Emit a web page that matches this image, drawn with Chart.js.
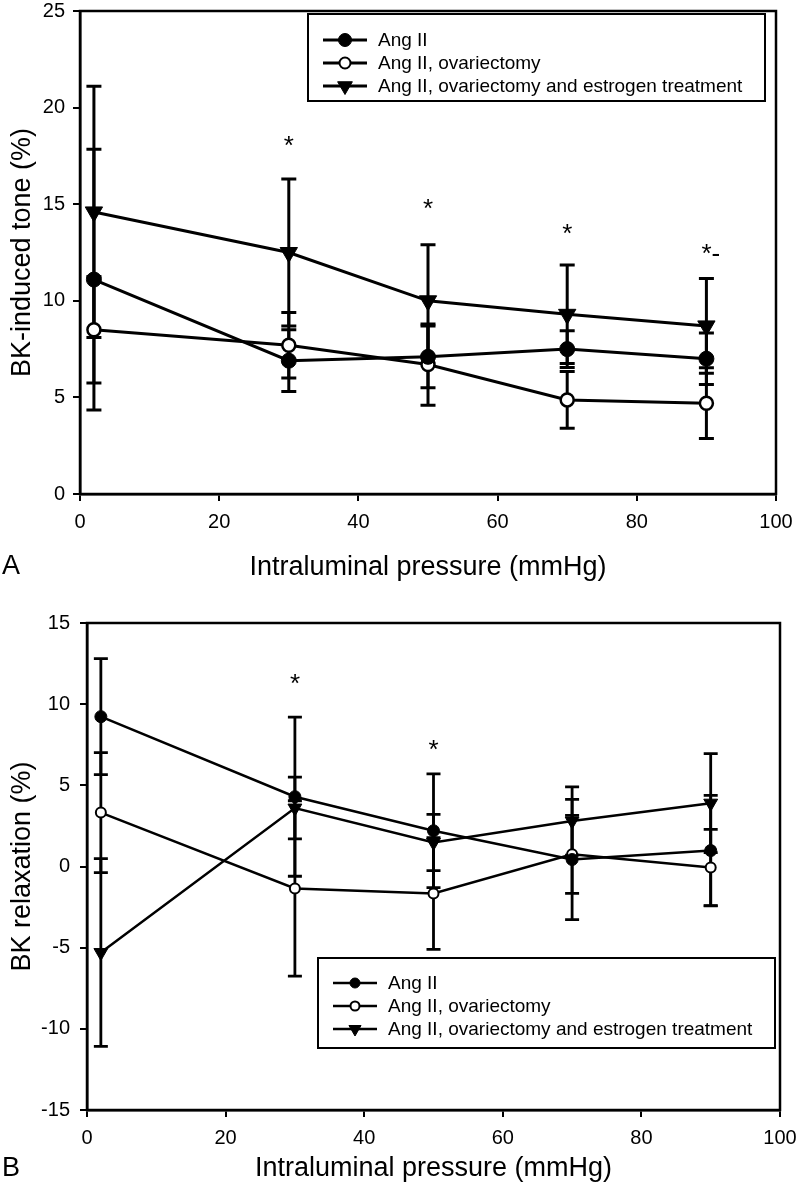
<!DOCTYPE html>
<html>
<head>
<meta charset="utf-8">
<script src="https://cdn.jsdelivr.net/npm/chart.js@4.4.0/dist/chart.umd.min.js"></script>
<style>
  html, body { margin: 0; padding: 0; background: #fff; }
  #wrap { position: relative; width: 800px; height: 1197px; }
  canvas { position: absolute; left: 0; }
  #toneChart { top: 0; }
  #relaxChart { top: 600px; }
</style>
</head>
<body>
<div id="wrap">
  <canvas id="toneChart" width="800" height="600"></canvas>
  <canvas id="relaxChart" width="800" height="597"></canvas>
</div>
<script>
// ---- Data ----
const pressure = [2, 30, 50, 70, 90];
const pressureTicks = [0, 20, 40, 60, 80, 100];
const seriesNames = ['Ang II', 'Ang II, ovariectomy', 'Ang II, ovariectomy and estrogen treatment'];

// Panel A - BK-induced tone (%)
const toneAngII = [11.1, 6.9, 7.1, 7.5, 7.0];
const toneAngIIErr = [6.75, 1.6, 1.6, 0.95, 1.33];
const toneOvx = [8.5, 7.7, 6.7, 4.87, 4.7];
const toneOvxErr = [2.76, 1.7, 2.1, 1.47, 1.83];
const toneEstrogen = [14.6, 12.5, 10.0, 9.3, 8.7];
const toneEstrogenErr = [6.5, 3.8, 2.9, 2.55, 2.45];
const toneTicks = [0, 5, 10, 15, 20, 25];
const toneStarPressure = [30, 50, 70, 90];
const toneStarLevel = [18.4, 15.1, 13.8, 12.8];
const toneStarText = ['*', '*', '*', '*-'];

// Panel B - BK relaxation (%)
const relaxAngII = [9.23, 4.3, 2.2, 0.43, 0.98];
const relaxAngIIErr = [3.57, 4.9, 3.5, 3.7, 3.4];
const relaxOvx = [3.32, -1.35, -1.66, 0.75, -0.06];
const relaxOvxErr = [3.7, 5.4, 3.44, 2.4, 2.35];
const relaxEstrogen = [-5.3, 3.6, 1.48, 2.8, 3.9];
const relaxEstrogenErr = [5.78, 1.9, 1.73, 2.1, 3.05];
const relaxTicks = [-15, -10, -5, 0, 5, 10, 15];
const relaxStarPressure = [30, 50];
const relaxStarLevel = [11.7, 7.6];
const relaxStarText = ['*', '*'];

const FONT = '"Liberation Sans", Arial, Helvetica, sans-serif';
Chart.defaults.font.family = FONT;
Chart.defaults.color = '#000';

function points(ys) {
    return pressure.map((x, i) => ({ x: x, y: ys[i] }));
}

// 0 = filled circle, 1 = open circle, 2 = filled down triangle
function makeDatasets(values, errors, size) {
    const shapes = [
        { style: 'circle', fill: '#000', radius: size.dot, border: 1, rot: 0 },
        { style: 'circle', fill: '#fff', radius: size.open, border: size.openBorder, rot: 0 },
        { style: 'triangle', fill: '#000', radius: size.tri, border: 1, rot: 180 }
    ];
    return values.map((vals, i) => ({
        label: seriesNames[i],
        data: points(vals),
        errors: errors[i],
        showLine: true,
        borderColor: '#000',
        borderWidth: size.line,
        pointStyle: shapes[i].style,
        pointRadius: shapes[i].radius,
        pointHoverRadius: shapes[i].radius,
        pointBackgroundColor: shapes[i].fill,
        pointBorderColor: '#000',
        pointBorderWidth: shapes[i].border,
        pointRotation: shapes[i].rot
    }));
}

function drawMarker(ctx, kind, cx, cy, r, bw) {
    ctx.beginPath();
    if (kind === 2) {
        ctx.moveTo(cx - r * 0.866, cy - r * 0.5);
        ctx.lineTo(cx + r * 0.866, cy - r * 0.5);
        ctx.lineTo(cx, cy + r);
        ctx.closePath();
    } else {
        ctx.arc(cx, cy, r, 0, Math.PI * 2);
    }
    ctx.fillStyle = kind === 1 ? '#fff' : '#000';
    ctx.fill();
    ctx.lineWidth = bw;
    ctx.strokeStyle = '#000';
    ctx.stroke();
}

// Error bars behind the lines and markers
const errorBars = {
    id: 'errorBars',
    beforeDatasetsDraw(chart, args, opts) {
        const { ctx, scales: { x, y } } = chart;
        ctx.save();
        ctx.strokeStyle = '#000';
        ctx.lineWidth = opts.width;
        chart.data.datasets.forEach(ds => {
            ds.data.forEach((p, i) => {
                const e = ds.errors[i];
                const px = x.getPixelForValue(p.x);
                const top = y.getPixelForValue(p.y + e);
                const bot = y.getPixelForValue(p.y - e);
                ctx.beginPath();
                ctx.moveTo(px, top); ctx.lineTo(px, bot);
                ctx.moveTo(px - opts.cap, top); ctx.lineTo(px + opts.cap, top);
                ctx.moveTo(px - opts.cap, bot); ctx.lineTo(px + opts.cap, bot);
                ctx.stroke();
            });
        });
        ctx.restore();
    }
};

// Significance stars
const stars = {
    id: 'stars',
    afterDatasetsDraw(chart, args, opts) {
        const { ctx, scales: { x, y } } = chart;
        ctx.save();
        ctx.font = opts.size + 'px ' + FONT;
        ctx.fillStyle = '#000';
        ctx.textAlign = 'left';
        ctx.textBaseline = 'alphabetic';
        opts.xs.forEach((xv, i) => {
            const px = x.getPixelForValue(xv);
            const py = y.getPixelForValue(opts.ys[i]);
            ctx.fillText(opts.texts[i], px - opts.size * 0.19, py + opts.size * 0.58);
        });
        ctx.restore();
    }
};

// Box frame, legend box and panel letter
const decor = {
    id: 'decor',
    afterDraw(chart, args, opts) {
        const { ctx, chartArea: a } = chart;
        ctx.save();
        ctx.strokeStyle = '#000';
        ctx.lineWidth = 2.5;
        ctx.strokeRect(a.left, a.top, a.right - a.left, a.bottom - a.top);

        const lg = opts.legend;
        ctx.lineWidth = 2;
        ctx.fillStyle = '#fff';
        ctx.fillRect(lg.left, lg.top, lg.width, lg.height);
        ctx.strokeRect(lg.left, lg.top, lg.width, lg.height);
        ctx.font = lg.font + 'px ' + FONT;
        ctx.textBaseline = 'middle';
        ctx.textAlign = 'left';
        chart.data.datasets.forEach((ds, i) => {
            const ry = lg.row0 + i * lg.rowGap;
            ctx.beginPath();
            ctx.lineWidth = lg.line;
            ctx.moveTo(lg.lineX0, ry);
            ctx.lineTo(lg.lineX1, ry);
            ctx.stroke();
            drawMarker(ctx, i, (lg.lineX0 + lg.lineX1) / 2, ry, lg.marker[i], i === 1 ? 2 : 1);
            ctx.fillStyle = '#000';
            ctx.fillText(ds.label, lg.textX, ry + 1);
        });

        ctx.font = opts.letterSize + 'px ' + FONT;
        ctx.fillStyle = '#000';
        ctx.textBaseline = 'middle';
        ctx.fillText(opts.letter, opts.letterX, opts.letterY);
        ctx.restore();
    }
};

function makeChart(id, cfg) {
    return new Chart(document.getElementById(id), {
        type: 'scatter',
        data: { datasets: cfg.datasets },
        options: {
            responsive: false,
            animation: false,
            devicePixelRatio: 1,
            layout: { padding: cfg.padding },
            plugins: {
                legend: { display: false },
                tooltip: { enabled: false },
                errorBars: cfg.errorBars,
                stars: cfg.stars,
                decor: cfg.decor
            },
            scales: {
                x: {
                    type: 'linear',
                    min: pressureTicks[0],
                    max: pressureTicks[pressureTicks.length - 1],
                    afterBuildTicks: s => { s.ticks = pressureTicks.map(v => ({ value: v })); },
                    afterFit: s => { s.height = cfg.xHeight; s.paddingLeft = 0; s.paddingRight = 0; },
                    ticks: { font: { size: 20 }, color: '#000', padding: 9, maxRotation: 0 },
                    grid: { drawOnChartArea: false, drawTicks: true, tickLength: 7, color: '#000', lineWidth: 2 },
                    border: { display: true, color: '#000', width: 2.5 },
                    title: {
                        display: true, text: 'Intraluminal pressure (mmHg)', color: '#000',
                        font: { size: 27 }, padding: { top: 0, bottom: cfg.xTitlePad }
                    }
                },
                y: {
                    type: 'linear',
                    min: cfg.yTicks[0],
                    max: cfg.yTicks[cfg.yTicks.length - 1],
                    afterBuildTicks: s => { s.ticks = cfg.yTicks.map(v => ({ value: v })); },
                    afterFit: s => { s.width = cfg.yWidth; s.paddingTop = 0; s.paddingBottom = 0; },
                    ticks: { font: { size: 20 }, color: '#000', padding: cfg.yTickPad },
                    grid: { drawOnChartArea: false, drawTicks: true, tickLength: 7, color: '#000', lineWidth: 2 },
                    border: { display: true, color: '#000', width: 2.5 },
                    title: {
                        display: true, text: cfg.yTitle, color: '#000',
                        font: { size: 27 }, padding: { top: 6, bottom: 0 }
                    }
                }
            }
        },
        plugins: [errorBars, stars, decor]
    });
}

// Panel A
makeChart('toneChart', {
    datasets: makeDatasets(
        [toneAngII, toneOvx, toneEstrogen],
        [toneAngIIErr, toneOvxErr, toneEstrogenErr],
        { dot: 7.5, open: 6.5, openBorder: 2.5, tri: 10, line: 3 }
    ),
    padding: { top: 7, right: 24, bottom: 0, left: 0 },
    xHeight: 106,
    xTitlePad: 16,
    yWidth: 80,
    yTickPad: 8,
    yTicks: toneTicks,
    yTitle: 'BK-induced tone (%)',
    errorBars: { width: 3, cap: 7.5 },
    stars: { xs: toneStarPressure, ys: toneStarLevel, texts: toneStarText, size: 26 },
    decor: {
        legend: { left: 308, top: 14, width: 457, height: 87, row0: 40, rowGap: 23, font: 19,
                  lineX0: 323, lineX1: 367, textX: 378, line: 3, marker: [6.5, 5.5, 8.5] },
        letter: 'A', letterSize: 27, letterX: 2, letterY: 567
    }
});

// Panel B
makeChart('relaxChart', {
    datasets: makeDatasets(
        [relaxAngII, relaxOvx, relaxEstrogen],
        [relaxAngIIErr, relaxOvxErr, relaxEstrogenErr],
        { dot: 6, open: 5, openBorder: 2, tri: 8, line: 2.5 }
    ),
    padding: { top: 23, right: 20, bottom: 0, left: 0 },
    xHeight: 87,
    xTitlePad: 12,
    yWidth: 87,
    yTickPad: 10,
    yTicks: relaxTicks,
    yTitle: 'BK relaxation (%)',
    errorBars: { width: 2.8, cap: 7 },
    stars: { xs: relaxStarPressure, ys: relaxStarLevel, texts: relaxStarText, size: 26 },
    decor: {
        legend: { left: 318, top: 358, width: 457, height: 90, row0: 383, rowGap: 23, font: 19,
                  lineX0: 333, lineX1: 377, textX: 388, line: 2.5, marker: [5, 4.5, 7] },
        letter: 'B', letterSize: 27, letterX: 2, letterY: 569
    }
});
</script>
</body>
</html>
